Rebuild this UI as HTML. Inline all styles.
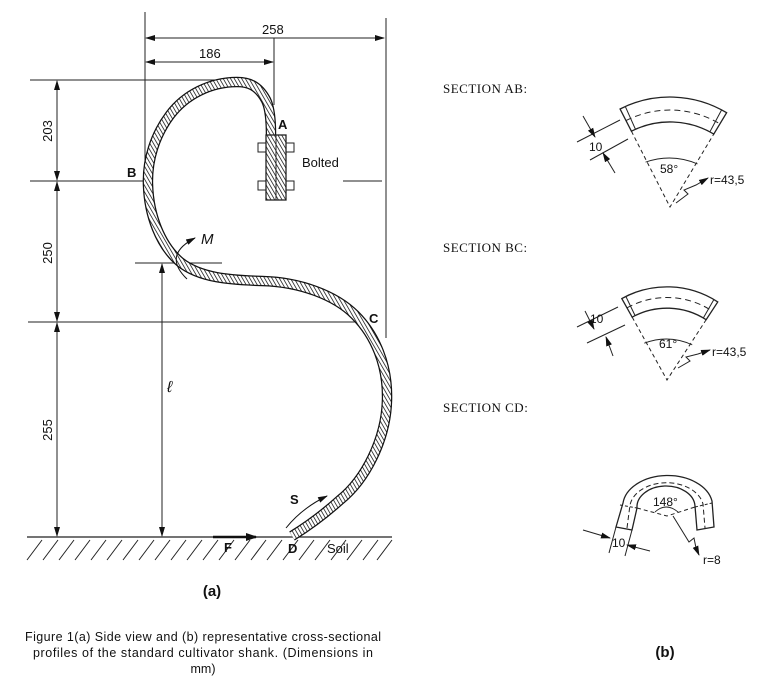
<!DOCTYPE html>
<html><head><meta charset="utf-8"><style>
html,body{margin:0;padding:0;background:#fff;}
svg{display:block;}
text{font-family:"Liberation Sans",sans-serif;fill:#111;}
.s{font-family:"Liberation Serif",serif;font-size:13px;letter-spacing:0.5px;}
</style></head><body>
<svg width="775" height="685" viewBox="0 0 775 685" xmlns="http://www.w3.org/2000/svg">
<defs>
<pattern id="h" patternUnits="userSpaceOnUse" width="3.2" height="3.2" patternTransform="rotate(-30)">
<rect width="3.2" height="3.2" fill="#fff"/><line x1="0" y1="0" x2="0" y2="3.2" stroke="#111" stroke-width="1.5"/>
</pattern>
<marker id="ar" markerWidth="10" markerHeight="8" refX="9" refY="4" orient="auto" markerUnits="userSpaceOnUse">
<path d="M0,1 L10,4 L0,7 Z" fill="#111"/></marker>
<marker id="al" markerWidth="10" markerHeight="8" refX="1" refY="4" orient="auto" markerUnits="userSpaceOnUse">
<path d="M10,1 L0,4 L10,7 Z" fill="#111"/></marker>
</defs>
<g stroke="#222" stroke-width="1" fill="none">
<line x1="145" y1="12" x2="145" y2="165"/>
<line x1="386" y1="18" x2="386" y2="338"/>
<line x1="274" y1="38" x2="274" y2="105"/>
<line x1="146" y1="38" x2="384" y2="38" marker-start="url(#al)" marker-end="url(#ar)"/>
<line x1="146" y1="62" x2="273" y2="62" marker-start="url(#al)" marker-end="url(#ar)"/>
<line x1="30" y1="80" x2="225" y2="80"/>
<line x1="30" y1="181" x2="143" y2="181"/>
<line x1="343" y1="181" x2="382" y2="181"/>
<line x1="28" y1="322" x2="358" y2="322"/>
<line x1="57" y1="81" x2="57" y2="180" marker-start="url(#al)" marker-end="url(#ar)"/>
<line x1="57" y1="182" x2="57" y2="321" marker-start="url(#al)" marker-end="url(#ar)"/>
<line x1="57" y1="323" x2="57" y2="536" marker-start="url(#al)" marker-end="url(#ar)"/>
<line x1="135" y1="263" x2="222" y2="263"/>
<line x1="162" y1="264" x2="162" y2="536" marker-start="url(#al)" marker-end="url(#ar)"/>
<line x1="27" y1="537" x2="392" y2="537" stroke-width="1.3"/>
<path d="M42,540 L27,560 M58,540 L43,560 M74,540 L59,560 M90,540 L75,560 M106,540 L91,560 M122,540 L107,560 M138,540 L123,560 M154,540 L139,560 M170,540 L155,560 M186,540 L171,560 M202,540 L187,560 M218,540 L203,560 M234,540 L219,560 M250,540 L235,560 M266,540 L251,560 M282,540 L267,560 M298,540 L283,560 M314,540 L299,560 M330,540 L315,560 M346,540 L331,560 M362,540 L347,560 M378,540 L363,560 M392,540 L377,560"/>
</g>
<path d="M271,200 L271,135 C271,120 270,108 266,100 C258,85 248,82 237,82 C210,82 185,95 170,115 C155,135 147,160 148,185 C149,215 160,245 180,262 C200,278 230,280 262,281 C300,282 335,295 355,315 C375,335 388,365 387,400 C386,440 365,480 340,500 C320,518 305,528 292,536" fill="none" stroke="#111" stroke-width="10.5"/>
<path d="M271,200 L271,135 C271,120 270,108 266,100 C258,85 248,82 237,82 C210,82 185,95 170,115 C155,135 147,160 148,185 C149,215 160,245 180,262 C200,278 230,280 262,281 C300,282 335,295 355,315 C375,335 388,365 387,400 C386,440 365,480 340,500 C320,518 305,528 292,536" fill="none" stroke="url(#h)" stroke-width="8"/>
<g stroke="#222" stroke-width="1">
<rect x="258" y="143" width="8" height="9" fill="#fff"/><rect x="286" y="143" width="8" height="9" fill="#fff"/>
<rect x="258" y="181" width="8" height="9" fill="#fff"/><rect x="286" y="181" width="8" height="9" fill="#fff"/>
<rect x="266" y="135" width="20" height="65" fill="url(#h)" stroke-width="1.3"/>
<line x1="276" y1="135" x2="276" y2="200"/>
</g>
<path d="M187,279 Q162,255 195,238" fill="none" stroke="#111" marker-end="url(#ar)"/>
<path d="M286,528 Q302,508 327,496" fill="none" stroke="#111" marker-end="url(#ar)"/>
<line x1="213" y1="537" x2="256" y2="537" stroke="#111" stroke-width="2.5"/>
<path d="M246,533 L258,537 L246,541Z" fill="#111"/>
<g font-size="13">
<text x="262" y="34">258</text>
<text x="199" y="58">186</text>
<text x="278" y="129" font-weight="bold">A</text>
<text x="302" y="167">Bolted</text>
<text x="127" y="177" font-weight="bold">B</text>
<text x="369" y="323" font-weight="bold">C</text>
<text x="201" y="244" font-style="italic" font-family="Liberation Serif" font-size="15">M</text>
<text x="167" y="392" font-style="italic" font-family="Liberation Serif" font-size="16">ℓ</text>
<text x="290" y="504" font-weight="bold">S</text>
<text x="224" y="552" font-weight="bold">F</text>
<text x="288" y="553" font-weight="bold">D</text>
<text x="327" y="553">Soil</text>
<text transform="translate(52,131) rotate(-90)" text-anchor="middle">203</text>
<text transform="translate(52,253) rotate(-90)" text-anchor="middle">250</text>
<text transform="translate(52,430) rotate(-90)" text-anchor="middle">255</text>
<text x="212" y="596" font-weight="bold" font-size="15" text-anchor="middle">(a)</text>
<text x="665" y="657" font-weight="bold" font-size="15" text-anchor="middle">(b)</text>
</g>
<g font-size="12.5" text-anchor="middle">
<text x="203" y="641" textLength="356">Figure 1(a) Side view and (b) representative cross-sectional</text>
<text x="203" y="657" textLength="340">profiles of the standard cultivator shank. (Dimensions in</text>
<text x="203" y="673">mm)</text>
</g>
<text class="s" x="443" y="93">SECTION AB:</text>
<text class="s" x="443" y="252">SECTION BC:</text>
<text class="s" x="443" y="412">SECTION CD:</text>
<g transform="translate(670,207) rotate(2)" stroke="#222" stroke-width="1.3" fill="none">
<path d="M-53.3,-96.2 A110,110 0 0 1 53.3,-96.2 L41.2,-74.4 A85,85 0 0 0 -41.2,-74.4 Z"/>
<path d="M-47,-84.8 A97,97 0 0 1 47,-84.8" stroke-dasharray="6,4" stroke-width="1"/>
<line x1="-48.2" y1="-98.9" x2="-37.2" y2="-76.4" stroke-width="1"/>
<line x1="48.2" y1="-98.9" x2="37.2" y2="-76.4" stroke-width="1"/>
<path d="M-41.2,-74.4 L0,0 L41.2,-74.4" stroke-dasharray="4,3" stroke-width="1"/>
<path d="M-26,-44 Q0,-54 26,-44" stroke-width="0.9"/>
</g>
<g stroke="#222" fill="none" stroke-width="1">
<line x1="577" y1="142" x2="620" y2="120"/><line x1="590" y1="160" x2="628" y2="139"/>
<line x1="583" y1="116" x2="595" y2="137" marker-end="url(#ar)"/>
<line x1="615" y1="173" x2="603" y2="153" marker-end="url(#ar)"/>
<path d="M676,203 L688,194 L684,190 L696,185 L708,178" marker-end="url(#ar)"/>
</g>
<g font-size="12">
<text x="589" y="151">10</text>
<text x="660" y="173">58°</text>
<text x="710" y="184">r=43,5</text>
</g>
<g transform="translate(667,380) rotate(2)" stroke="#222" stroke-width="1.3" fill="none">
<path d="M-48,-79.8 A93,93 0 0 1 48,-79.8 L37,-61.6 A72,72 0 0 0 -37,-61.6 Z"/>
<path d="M-42.5,-70.7 A82.5,82.5 0 0 1 42.5,-70.7" stroke-dasharray="6,4" stroke-width="1"/>
<line x1="-44" y1="-82" x2="-34" y2="-63" stroke-width="1"/>
<line x1="44" y1="-82" x2="34" y2="-63" stroke-width="1"/>
<path d="M-37,-61.6 L0,0 L37,-61.6" stroke-dasharray="4,3" stroke-width="1"/>
<path d="M-24,-36 Q0,-46 24,-36" stroke-width="0.9"/>
</g>
<g stroke="#222" fill="none" stroke-width="1">
<line x1="577" y1="327" x2="618" y2="307"/><line x1="587" y1="343" x2="625" y2="325"/>
<line x1="585" y1="311" x2="594" y2="329" marker-end="url(#ar)"/>
<line x1="613" y1="356" x2="606" y2="337" marker-end="url(#ar)"/>
<path d="M678,368 L690,361 L686,357 L698,354 L710,350" marker-end="url(#ar)"/>
</g>
<g font-size="12">
<text x="590" y="323">10</text>
<text x="659" y="348">61°</text>
<text x="712" y="356">r=43,5</text>
</g>
<g stroke="#222" fill="none" stroke-width="1.3">
<path d="M616,527 L623,503 A45,31 0 0 1 712,501 L714,527 L697,530 L695,506 A29,21 0 0 0 637,508 L632,530 Z"/>
</g>
<g stroke="#222" fill="none" stroke-width="1">
<path d="M627,528 L630,505 A37,26 0 0 1 703,504 L705,528" stroke-dasharray="5,3"/>
<line x1="620" y1="505" x2="637" y2="508" stroke-dasharray="3,2"/>
<line x1="695" y1="507" x2="712" y2="503" stroke-dasharray="3,2"/>
<path d="M637,508 L667,516 L695,507" stroke-dasharray="4,3"/>
<path d="M655,512 Q666,502 678,512" stroke-width="0.9"/>
<line x1="616" y1="527" x2="609" y2="553"/><line x1="632" y1="530" x2="625" y2="556"/>
<line x1="583" y1="530" x2="610" y2="538" marker-end="url(#ar)"/>
<line x1="650" y1="551" x2="627" y2="545" marker-end="url(#ar)"/>
<path d="M673,516 L689,542 L694,538 L696,548 L699,555" marker-end="url(#ar)"/>
</g>
<g font-size="12">
<text x="612" y="547">10</text>
<text x="653" y="506">148°</text>
<text x="703" y="564">r=8</text>
</g>
</svg>
</body></html>
